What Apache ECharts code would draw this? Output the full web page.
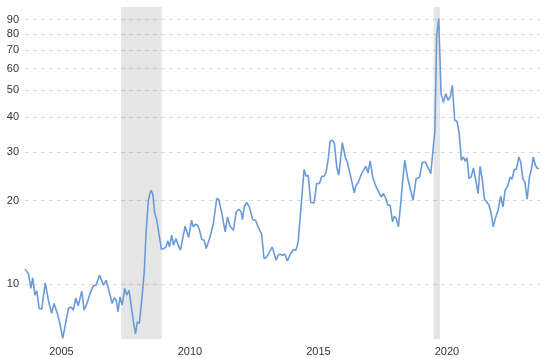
<!DOCTYPE html>
<html>
<head>
<meta charset="utf-8">
<script src="https://cdn.jsdelivr.net/npm/echarts@6/dist/echarts.min.js"></script>
<style>html,body{margin:0;padding:0;background:#fff}#c{width:545px;height:358px}</style>
</head>
<body>
<div id="c"></div>
<script>
// decimal years of each observation
const years = [
2004.18,2004.31,2004.41,2004.48,2004.57,2004.64,2004.73,2004.83,2004.97,2005.09,
2005.22,2005.31,2005.44,2005.55,2005.65,2005.77,2005.87,2005.97,2006.06,2006.16,
2006.25,2006.32,2006.39,2006.48,2006.59,2006.71,2006.84,2006.95,2007.08,2007.14,
2007.23,2007.34,2007.40,2007.49,2007.57,2007.65,2007.73,2007.80,2007.88,2007.96,
2008.06,2008.14,2008.23,2008.31,2008.40,2008.48,2008.55,2008.63,2008.74,2008.82,
2008.89,2008.98,2009.08,2009.15,2009.22,2009.31,2009.41,2009.49,2009.59,2009.67,
2009.74,2009.80,2009.89,2009.96,2010.05,2010.14,2010.23,2010.29,2010.41,2010.48,
2010.55,2010.66,2010.73,2010.81,2010.90,2010.97,2011.06,2011.15,2011.23,2011.29,
2011.38,2011.51,2011.64,2011.72,2011.84,2011.97,2012.06,2012.16,2012.29,2012.40,
2012.50,2012.59,2012.64,2012.72,2012.81,2012.91,2013.04,2013.15,2013.26,2013.39,
2013.48,2013.56,2013.65,2013.72,2013.80,2013.87,2013.95,2014.03,2014.11,2014.21,
2014.29,2014.39,2014.52,2014.62,2014.72,2014.81,2014.91,2015.04,2015.12,2015.20,
2015.30,2015.43,2015.53,2015.64,2015.73,2015.82,2015.90,2015.99,2016.05,2016.14,
2016.22,2016.31,2016.39,2016.53,2016.64,2016.73,2016.80,2016.90,2016.99,2017.06,
2017.14,2017.25,2017.35,2017.45,2017.53,2017.61,2017.71,2017.83,2017.95,2018.04,
2018.13,2018.22,2018.30,2018.39,2018.48,2018.55,2018.63,2018.71,2018.80,2018.88,
2018.96,2019.06,2019.17,2019.28,2019.40,2019.53,2019.64,2019.76,2019.85,2019.97,
2020.05,2020.13,2020.20,2020.28,2020.37,2020.46,2020.55,2020.64,2020.73,2020.81,
2020.90,2020.99,2021.07,2021.16,2021.24,2021.31,2021.38,2021.46,2021.54,2021.63,
2021.72,2021.81,2021.89,2021.97,2022.06,2022.15,2022.24,2022.32,2022.40,2022.48,
2022.59,2022.69,2022.78,2022.86,2022.95,2023.06,2023.13,2023.22,2023.30,2023.40,
2023.47,2023.55,2023.63,2023.72,2023.81,2023.89,2023.96,2024.04,2024.12,2024.18
];
const values = [
11.33,10.93,9.65,10.54,9.13,9.46,8.17,8.13,10.11,8.76,
7.84,8.52,7.84,7.11,6.37,7.31,8.17,8.28,8.06,8.92,
8.35,8.40,9.44,8.06,8.52,9.26,9.86,9.92,10.78,10.71,
9.92,10.34,10.34,9.13,8.52,8.92,8.76,7.95,9.00,8.40,
9.65,9.13,9.49,8.40,7.31,6.62,7.31,7.22,9.13,11.07,
15.23,20.08,21.82,21.23,18.22,17.01,14.81,13.37,13.45,13.63,
14.33,13.63,15.02,13.82,14.61,13.82,13.26,13.45,16.19,16.19,
14.74,17.01,16.09,16.46,16.32,15.65,14.49,14.41,13.45,13.37,
14.81,16.55,20.37,20.20,17.98,15.43,17.48,16.19,15.65,18.22,
18.64,18.22,17.11,19.11,19.70,19.00,17.11,17.01,16.01,15.11,
12.38,12.48,12.83,12.83,13.63,13.45,12.20,12.72,12.83,12.72,
12.83,12.13,12.90,13.34,13.26,14.21,18.48,25.92,24.51,24.71,
19.70,19.64,23.07,23.07,24.51,24.51,25.41,28.76,32.86,33.05,
32.16,26.48,24.71,32.43,28.76,27.37,27.07,23.38,21.34,22.75,
23.19,24.71,25.76,26.63,25.19,27.83,24.37,22.56,21.46,20.64,
21.23,20.37,19.27,19.27,16.77,17.59,17.25,16.09,19.54,23.71,
27.99,24.37,22.13,20.08,24.04,24.24,27.53,27.53,26.48,25.06,
29.98,35.92,79.0,90.8,48.69,45.19,48.69,46.06,47.34,52.17,
39.02,38.69,35.40,27.99,28.76,27.76,28.53,24.04,24.37,26.26,
23.71,21.23,26.63,24.04,20.25,19.80,19.27,17.98,16.09,17.25,
18.48,20.76,19.00,21.82,22.43,24.37,23.91,25.92,25.92,28.76,
27.60,24.04,23.38,20.25,24.37,26.13,28.76,26.85,26.13,26.13
];
// recession periods (decimal years)
const recessions = [[2007.92, 2009.5], [2020.08, 2020.33]];
// tick labels
const yTicks = [10, 20, 30, 40, 50, 60, 70, 80, 90];
const xTickYears = [2005, 2010, 2015, 2020];

const chart = echarts.init(document.getElementById('c'), null, {renderer: 'canvas'});
const lineData = years.map((y, i) => [y, values[i]]);
const labelOffset = 0.6;
chart.setOption({
  animation: false,
  grid: {left: 25, right: 5, top: 7, bottom: 19, containLabel: false},
  xAxis: {
    type: 'value',
    min: 2004.18, max: 2024.22,
    axisLine: {show: false},
    axisTick: {show: false},
    splitLine: {show: false},
    axisLabel: {
      customValues: xTickYears.map(y => y + labelOffset),
      formatter: v => String(Math.floor(v)),
      color: '#333', fontSize: 11, fontFamily: 'Liberation Sans', margin: 7
    }
  },
  yAxis: {
    type: 'log',
    min: 6.34, max: 100,
    axisLine: {show: false},
    axisTick: {show: false, customValues: yTicks},
    axisLabel: {customValues: yTicks, color: '#333', fontSize: 11, fontFamily: 'Liberation Sans', margin: 6},
    splitLine: {show: true, lineStyle: {color: '#dcdcdc', type: [4, 4], width: 1}}
  },
  series: [{
    type: 'line',
    data: lineData,
    showSymbol: false,
    lineStyle: {color: '#6a9bd8', width: 1.6},
    z: 3,
    markArea: {
      silent: true,
      itemStyle: {color: 'rgba(0,0,0,0.1)'},
      data: recessions.map(r => [{xAxis: r[0]}, {xAxis: r[1]}])
    }
  }]
});
</script>
</body>
</html>
